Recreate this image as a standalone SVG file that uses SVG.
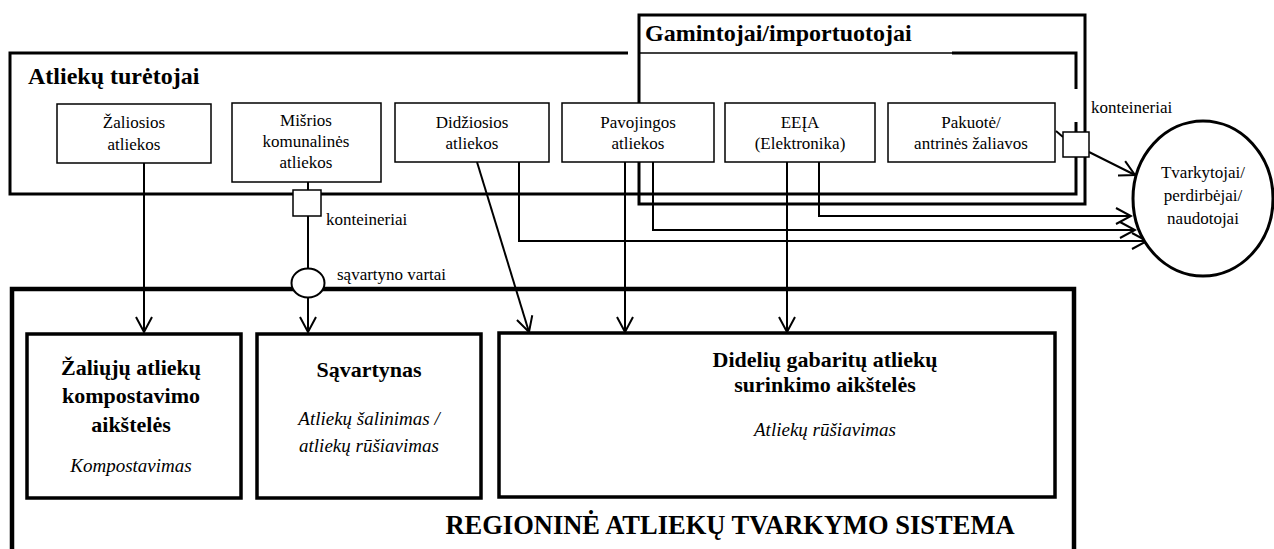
<svg xmlns="http://www.w3.org/2000/svg" width="1274" height="549" viewBox="0 0 1274 549">
<style>
  text { font-family: "Liberation Serif", "Times New Roman", serif; fill: #000; }
  .t { font-size: 17px; text-anchor: middle; }
  .lbl { font-size: 17px; }
  .title { font-size: 24px; font-weight: bold; }
  .bt { font-size: 22px; font-weight: bold; text-anchor: middle; }
  .it { font-size: 19px; font-style: italic; text-anchor: middle; }
  .big { font-size: 26.5px; font-weight: bold; text-anchor: middle; }
  .frame { fill: none; stroke: #000; stroke-width: 3; }
  .rframe { fill: none; stroke: #000; stroke-width: 4.5; }
  .sbox { fill: #fff; stroke: #000; stroke-width: 1.5; }
  .bbox { fill: #fff; stroke: #000; stroke-width: 3.5; }
  .con { fill: none; stroke: #000; stroke-width: 2; }
</style>
<defs>
  <marker id="arr" viewBox="-17 -10 19 20" refX="0" refY="0" markerWidth="19" markerHeight="20" markerUnits="userSpaceOnUse" orient="auto">
    <path d="M-15,-8 L0,0 L-15,8" fill="none" stroke="#000" stroke-width="2"/>
  </marker>
</defs>
<rect width="1274" height="549" fill="#fff"/>

<g id="frame-regional">
  <path class="rframe" d="M12,560 L12,289 L1074,289 L1074,560"/>
  <text class="big" x="730" y="534">REGIONINĖ ATLIEKŲ TVARKYMO SISTEMA</text>
</g>

<g id="frame-gamintojai">
  <path class="frame" d="M639,204 L639,15 L1085,15 L1085,204 Z"/>
  <line x1="639" y1="53" x2="952" y2="53" stroke="#000" stroke-width="1.5"/>
  <text class="title" x="645" y="41">Gamintojai/importuotojai</text>
</g>

<g id="frame-turetojai">
  <path class="frame" d="M628,53 L10,53 L10,194 L1076,194 L1076,122"/>
  <path class="frame" d="M952,53 L1076,53 L1076,89"/>
  <text class="title" x="28" y="84">Atliekų turėtojai</text>
</g>

<g id="connectors">
  <path class="con" d="M144,163 L144,332" marker-end="url(#arr)"/>
  <path class="con" d="M308,182 L308,190"/>
  <path class="con" d="M308,216 L308,268"/>
  <path class="con" d="M308,297 L308,332" marker-end="url(#arr)"/>
  <path class="con" d="M477,162 L529,332" marker-end="url(#arr)"/>
  <path class="con" d="M519,162 L519,241 L1147,241" marker-end="url(#arr)"/>
  <path class="con" d="M625,162 L625,332" marker-end="url(#arr)"/>
  <path class="con" d="M653,162 L653,230 L1135,230" marker-end="url(#arr)"/>
  <path class="con" d="M787,162 L787,332" marker-end="url(#arr)"/>
  <path class="con" d="M819,162 L819,216 L1131,216" marker-end="url(#arr)"/>
  <path class="con" d="M1056,131 L1063,137"/>
  <path class="con" d="M1089,152 L1135,175" marker-end="url(#arr)"/>
</g>

<g id="node-zaliosios">
  <rect class="sbox" x="57" y="104" width="154" height="59"/>
  <text class="t" x="134" y="128">Žaliosios</text>
  <text class="t" x="134" y="150">atliekos</text>
</g>
<g id="node-misrios">
  <rect class="sbox" x="232" y="103" width="149" height="79"/>
  <text class="t" x="306" y="126">Mišrios</text>
  <text class="t" x="306" y="147">komunalinės</text>
  <text class="t" x="306" y="168">atliekos</text>
</g>
<g id="node-didziosios">
  <rect class="sbox" x="395" y="103" width="154" height="59"/>
  <text class="t" x="472" y="128">Didžiosios</text>
  <text class="t" x="472" y="149">atliekos</text>
</g>
<g id="node-pavojingos">
  <rect class="sbox" x="562" y="103" width="152" height="59"/>
  <text class="t" x="638" y="128">Pavojingos</text>
  <text class="t" x="638" y="149">atliekos</text>
</g>
<g id="node-eeia">
  <rect class="sbox" x="725" y="103" width="150" height="59"/>
  <text class="t" x="800" y="128">EEĮA</text>
  <text class="t" x="800" y="149">(Elektronika)</text>
</g>
<g id="node-pakuote">
  <rect class="sbox" x="888" y="103" width="167" height="59"/>
  <text class="t" x="971" y="128">Pakuotė/</text>
  <text class="t" x="971" y="149">antrinės žaliavos</text>
</g>

<g id="node-konteineriai-1">
  <rect class="sbox" x="293" y="190" width="28" height="26"/>
  <text class="lbl" x="326" y="225">konteineriai</text>
</g>
<g id="node-konteineriai-2">
  <rect class="sbox" x="1063" y="132" width="26" height="25"/>
  <text class="lbl" x="1091" y="113">konteineriai</text>
</g>
<g id="node-vartai">
  <ellipse cx="308" cy="283" rx="16.5" ry="14.5" fill="#fff" stroke="#000" stroke-width="2"/>
  <text class="lbl" x="337" y="280">sąvartyno vartai</text>
</g>

<g id="node-tvarkytojai">
  <ellipse cx="1203" cy="198.5" rx="70" ry="77.5" fill="#fff" stroke="#000" stroke-width="3"/>
  <text class="t" x="1203" y="178">Tvarkytojai/</text>
  <text class="t" x="1203" y="201">perdirbėjai/</text>
  <text class="t" x="1203" y="224">naudotojai</text>
</g>

<g id="node-kompostavimo">
  <rect class="bbox" x="27" y="334" width="214" height="164"/>
  <text class="bt" x="131" y="375">Žaliųjų atliekų</text>
  <text class="bt" x="131" y="403">kompostavimo</text>
  <text class="bt" x="131" y="432">aikštelės</text>
  <text class="it" x="131" y="472">Kompostavimas</text>
</g>
<g id="node-savartynas">
  <rect class="bbox" x="257" y="334" width="224" height="164"/>
  <text class="bt" x="369" y="377">Sąvartynas</text>
  <text class="it" x="369" y="425">Atliekų šalinimas /</text>
  <text class="it" x="369" y="452">atliekų rūšiavimas</text>
</g>
<g id="node-dideliu">
  <rect class="bbox" x="499" y="333" width="556" height="164"/>
  <text class="bt" x="825" y="367">Didelių gabaritų atliekų</text>
  <text class="bt" x="825" y="392">surinkimo aikštelės</text>
  <text class="it" x="825" y="436">Atliekų rūšiavimas</text>
</g>
</svg>
